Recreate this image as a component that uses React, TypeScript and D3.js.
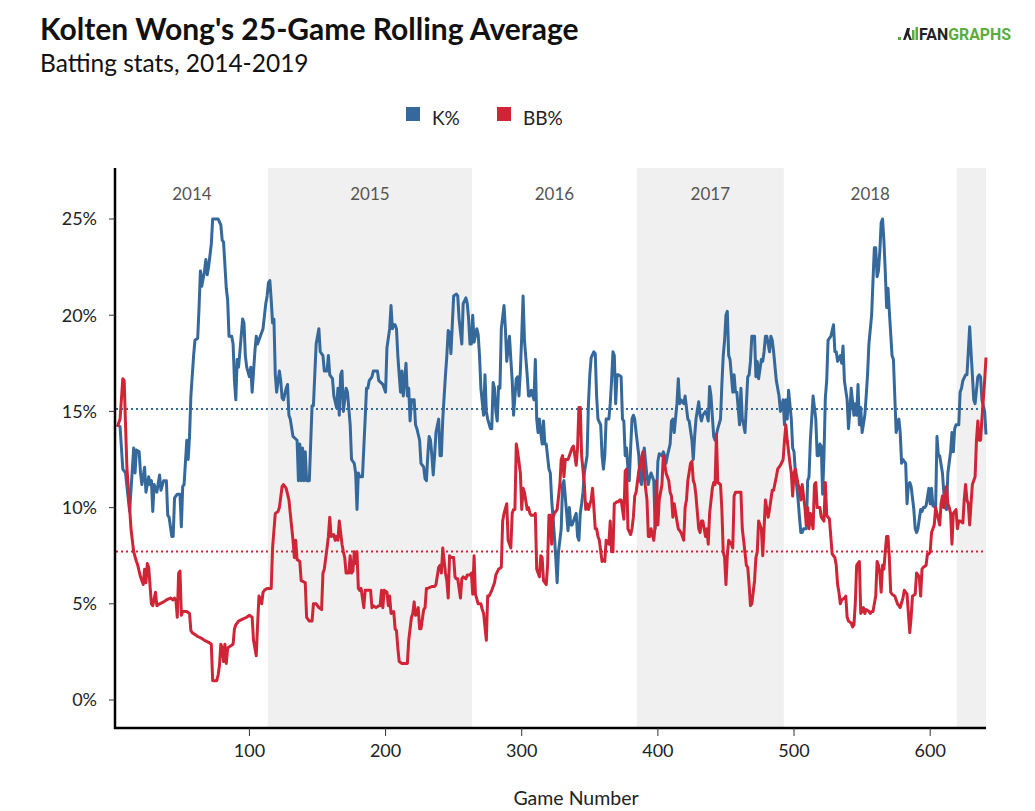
import React from 'react';
import * as d3 from 'd3';

type Pt = [number, number];

// K% 25-game rolling average, [game number, percent]
const k2014: Pt[] = [[3,14.3],[5,14.2],[7,12.0],[9,11.8],[12,9.8],[15,13.1],[16,11.8],[17,13.0],[19,12.9],[20,11.8],[21,11.2],[23,12.1],[24,10.8],[26,11.6],[27,11.2],[28,11.4],[29,9.8],[30,11.2],[32,10.8],[34,11.7],[35,10.9],[37,11.4],[39,11.4],[40,9.6],[41,9.5],[43,8.5],[44,8.5],[45,10.5],[47,10.7],[49,10.7],[50,9.0],[51,11.1],[52,11.2],[54,13.5],[55,12.5],[56,13.7],[57,15.8],[59,17.9],[60,18.7],[62,18.8],[63,20.4],[64,22.3],[65,21.5],[67,22.3],[68,22.9],[69,22.1],[70,22.5],[72,23.7],[73,25.0],[77,25.0],[79,24.7],[80,23.9],[81,23.8],[83,21.4],[84,20.8],[85,18.9],[87,18.9],[88,18.5],[89,16.6],[90,15.6],[91,17.7],[92,17.3],[93,18.1],[95,19.8],[96,19.6],[97,17.9],[98,17.3],[100,16.8],[101,17.3],[102,16.0],[104,18.1],[105,18.9],[106,18.5],[108,18.9],[109,19.1],[110,19.3],[112,20.6],[113,21.0]];
const k2015: Pt[] = [[114,21.7],[115,21.8],[116,20.8],[117,19.6],[118,19.8],[119,16.9],[120,16.0],[122,17.1],[123,16.6],[124,15.7],[125,15.6],[127,16.2],[128,16.4],[129,14.8],[130,14.6],[132,13.7],[135,13.5],[136,11.4],[137,13.3],[138,11.4],[139,13.1],[140,11.4],[141,12.9],[142,11.4],[144,11.4],[146,15.3],[147,15.3],[148,16.9],[149,18.5],[151,19.3],[152,18.1],[153,18.0],[154,17.9],[155,17.1],[157,17.1],[158,17.9],[159,16.9],[161,16.7],[162,15.8],[164,15.2],[165,16.2],[166,14.8],[167,16.9],[168,17.1],[169,15.0],[171,16.2],[172,16.0],[174,14.3],[175,12.5],[177,12.3],[178,11.8],[179,9.9],[180,11.8],[181,11.6],[183,11.6],[184,13.1],[185,14.6],[186,16.2],[187,16.2],[188,16.6],[190,16.8],[191,17.1],[194,17.1],[195,16.6],[198,16.4],[200,16.0],[201,18.3],[203,19.3],[204,20.5],[205,19.3],[206,19.5],[207,19.5],[208,19.3],[209,17.9],[210,16.9],[211,16.0],[212,17.1],[213,15.8],[215,17.5],[216,15.8],[217,16.2],[218,14.5],[219,15.6],[221,15.6],[222,14.3],[223,14.1],[225,13.5],[226,12.3],[228,12.1],[229,11.5],[230,11.4],[231,12.7],[232,13.7],[233,13.5],[234,12.7],[235,11.7],[236,12.7],[237,13.9],[239,14.6],[240,12.7],[241,12.7],[242,14.6],[244,16.9],[245,17.9],[246,19.2],[247,19.1],[248,18.0],[249,19.5],[250,21.0],[252,21.1],[253,21.0],[254,19.8],[256,18.5],[257,20.6],[259,20.9],[260,20.6],[261,19.8],[262,18.5],[263,18.5]];
const k2016: Pt[] = [[264,20.0],[265,18.6],[267,19.3],[268,19.0],[269,17.9],[270,16.2],[272,14.8],[273,16.9],[274,15.0],[275,14.6],[277,14.1],[278,14.1],[279,16.5],[280,16.2],[281,15.0],[282,14.5],[283,16.3],[284,16.2],[285,19.3],[287,20.5],[288,19.3],[289,17.6],[291,18.9],[292,17.7],[293,16.6],[294,14.8],[296,16.7],[297,16.8],[298,15.8],[299,17.1],[300,18.9],[301,21.0],[302,18.7],[304,16.9],[305,15.8],[306,15.8],[307,16.1],[309,15.6],[310,17.7],[311,14.6],[312,13.9],[313,14.6],[314,13.9],[315,13.3],[316,14.5],[317,13.3],[318,13.3],[320,12.0],[321,11.8],[322,10.4],[324,8.5],[325,7.4],[326,6.1],[327,7.7],[329,8.9],[330,11.2],[331,11.4],[333,9.7],[334,8.8],[335,10.0],[336,9.1],[337,9.1],[338,9.3],[340,9.7],[341,8.5],[342,8.3],[343,9.7],[344,10.2],[345,10.8],[346,11.8],[348,12.7],[349,15.4],[350,16.9],[351,17.8],[353,18.1],[354,18.0],[355,15.8],[356,14.6],[358,14.3],[359,12.7],[360,12.0],[361,12.7],[362,14.6],[364,14.6],[365,15.4],[366,16.6],[367,18.1],[368,17.9],[369,15.4],[370,16.9],[371,16.9],[373,16.8],[374,14.6],[375,14.5],[376,12.7],[377,13.1],[378,12.0],[379,11.4],[380,13.1],[381,14.6],[382,14.8],[383,14.6],[384,13.9]];
const k2017: Pt[] = [[386,12.7],[387,11.4],[388,11.2],[389,12.5],[390,13.1],[392,11.6],[393,11.2],[394,11.6],[395,11.8],[397,11.4],[398,8.9],[399,10.5],[400,12.4],[401,12.8],[403,12.7],[404,12.9],[405,12.7],[406,12.3],[407,12.7],[409,13.3],[410,14.5],[411,14.6],[412,13.9],[414,15.4],[415,16.7],[416,15.4],[417,15.6],[419,15.4],[420,15.8],[421,15.2],[422,14.6],[423,14.5],[425,13.5],[426,12.5],[427,13.7],[428,14.6],[430,15.5],[431,14.8],[432,14.5],[433,14.8],[435,15.0],[436,14.8],[437,14.5],[438,16.3],[439,15.8],[441,13.7],[442,13.5],[443,13.8],[444,14.1],[446,14.6],[447,16.4],[448,17.9],[449,18.7],[450,20.0],[451,20.2],[452,17.9],[453,17.7],[455,16.0],[456,16.9],[457,16.0],[458,16.0],[460,14.3],[461,16.2],[462,14.6],[463,14.3],[464,13.9],[466,16.8],[467,16.9],[468,17.6],[469,18.9],[471,18.9],[472,16.8],[473,17.6],[474,16.7],[476,17.7],[477,17.6],[478,18.1],[479,18.9],[480,18.9],[482,18.1],[483,18.9],[484,18.7],[485,18.1],[487,16.6],[488,16.2],[489,15.8],[490,15.0],[492,15.6],[493,14.3]];
const k2018: Pt[] = [[494,15.6],[495,14.6],[496,16.1],[498,14.6],[499,13.1],[500,12.9],[501,11.8],[503,10.4],[504,9.5],[505,8.7],[506,8.7],[507,8.9],[509,8.9],[510,11.4],[511,11.6],[512,13.5],[514,15.8],[516,14.6],[517,12.7],[518,12.7],[519,13.3],[520,13.2],[521,10.7],[522,12.7],[523,15.7],[524,16.6],[525,18.7],[527,18.9],[529,19.5],[530,18.1],[531,18.1],[532,17.6],[534,17.9],[535,17.5],[536,18.4],[537,16.6],[539,15.6],[540,14.1],[541,15.0],[542,16.2],[544,14.8],[545,15.4],[546,14.8],[547,16.4],[548,14.3],[549,15.2],[550,13.9],[552,14.8],[553,15.8],[554,16.9],[555,18.5],[557,20.0],[558,21.8],[559,23.5],[560,23.5],[561,22.0],[562,22.3],[563,23.3],[564,24.8],[565,25.0],[566,23.9],[567,22.3],[568,20.4],[569,21.4],[570,20.2],[572,17.9],[573,17.7],[574,15.8],[575,13.9],[577,14.6],[578,13.9],[579,12.3],[580,12.5],[582,12.3],[583,10.2],[584,11.2],[585,11.3],[586,11.1],[588,9.9],[589,8.9],[590,8.7],[591,8.9],[593,9.9],[594,9.8],[595,10.0],[596,10.0],[597,10.1],[599,11.0],[600,10.2],[601,11.0],[602,10.1],[604,10.0],[605,13.7],[606,12.7],[607,12.7],[609,11.8],[610,10.8],[611,10.0],[612,9.9],[613,11.8],[615,12.9],[616,13.9],[617,12.9],[618,14.1],[619,14.3]];
const k2019: Pt[] = [[621,14.3],[622,16.0],[623,16.2],[624,16.6],[626,16.9],[627,16.9],[628,18.1],[629,19.4],[630,18.1],[631,16.9],[632,15.6],[633,15.4],[635,16.8],[636,16.9],[637,16.8],[638,15.6],[640,15.0],[641,13.8]];

// BB% 25-game rolling average, [game number, percent]
const bb2014: Pt[] = [[3,14.2],[5,14.6],[7,16.7],[8,16.6],[9,14.3],[10,12.1],[12,10.0],[13,8.9],[15,7.7],[17,7.2],[18,7.0],[20,6.4],[22,6.0],[23,6.8],[24,6.1],[25,7.1],[26,6.9],[28,5.0],[29,4.9],[31,5.6],[32,4.9],[34,5.0],[37,5.1],[39,5.2],[42,5.3],[44,5.2],[45,5.3],[46,5.2],[47,4.3],[48,6.6],[49,6.7],[50,4.4],[51,4.6],[54,4.6],[56,4.5],[57,3.6],[58,3.5],[60,3.4],[62,3.3],[65,3.2],[67,3.1],[70,3.0],[72,2.9],[73,1.0],[76,1.0],[77,1.3],[78,1.8],[79,2.9],[80,2.7],[81,2.0],[82,2.9],[83,1.9],[84,2.7],[86,2.8],[88,2.9],[89,3.7],[90,3.9],[92,4.1],[95,4.2],[98,4.3],[100,4.4],[102,4.3],[103,3.1],[105,2.3],[106,3.9],[107,5.4],[109,5.0],[110,5.6],[111,5.7],[113,5.8]];
const bb2015: Pt[] = [[116,5.8],[117,7.9],[119,9.7],[121,9.8],[122,10.0],[124,11.1],[125,11.2],[127,11.0],[129,10.4],[130,9.7],[132,8.3],[133,7.4],[134,8.3],[135,7.3],[137,7.2],[138,6.2],[141,6.1],[142,4.3],[144,4.1],[146,4.1],[147,5.0],[149,5.0],[151,4.8],[153,4.7],[154,6.6],[155,6.8],[157,7.9],[158,8.5],[159,9.5],[160,8.5],[162,8.6],[163,8.3],[164,8.5],[165,8.3],[166,9.3],[168,8.1],[169,7.7],[170,7.4],[171,6.6],[173,6.6],[174,7.5],[175,6.6],[176,6.7],[177,7.7],[178,7.1],[179,7.7],[180,5.8],[181,5.7],[182,5.8],[184,4.8],[185,5.7],[189,5.7],[190,4.8],[191,4.9],[193,4.8],[195,4.9],[196,4.9],[197,5.7],[198,4.8],[199,5.7],[201,5.6],[202,4.9],[203,5.4],[204,4.5],[206,4.6],[207,3.7],[208,3.6],[209,2.7],[210,2.0],[212,1.9],[216,1.9],[217,3.1],[219,4.3],[220,4.5],[221,5.1],[222,4.4],[223,4.5],[224,4.8],[225,3.7],[226,3.7],[228,4.7],[229,4.8],[230,5.8],[231,5.8],[234,5.9],[236,5.9],[237,6.0],[239,6.9],[240,7.0],[241,6.6],[242,7.9],[244,6.6],[245,6.2],[246,5.3],[247,7.5],[248,7.4],[250,7.4],[251,6.4],[252,6.3],[253,6.3],[255,5.3],[256,6.3],[257,6.4],[259,6.3],[260,6.5],[262,6.5],[263,6.6]];
const bb2016: Pt[] = [[264,5.5],[265,7.5],[266,5.5],[268,5.0],[270,5.0],[271,4.7],[272,4.5],[274,3.1],[275,5.4],[276,5.4],[278,5.7],[280,6.1],[281,6.5],[283,6.8],[285,6.9],[286,9.3],[287,9.7],[289,10.2],[290,8.3],[292,7.9],[293,9.7],[294,9.9],[295,9.9],[296,13.3],[297,12.9],[299,11.8],[300,9.9],[301,11.0],[302,10.8],[304,9.9],[305,10.0],[306,9.7],[307,9.6],[309,9.6],[310,9.7],[311,6.8],[313,6.4],[314,7.5],[315,7.4],[316,6.2],[318,6.0],[319,7.0],[320,9.6],[321,9.6],[322,8.1],[323,9.5],[324,9.7],[325,9.8],[326,9.9],[328,11.2],[329,12.5],[330,12.7],[331,11.6],[332,12.5],[334,12.5],[335,12.7],[337,13.1],[338,13.2],[340,12.2],[341,13.1],[342,15.2],[343,15.2],[344,12.7],[346,11.2],[347,9.9],[348,10.2],[349,9.9],[351,10.4],[352,11.0],[353,10.0],[354,8.9],[355,8.9],[356,8.5],[357,8.3],[359,7.2],[360,7.3],[361,7.2],[362,8.3],[364,8.1],[365,9.3],[366,7.7],[367,7.7],[368,10.2],[370,10.3],[371,10.3],[372,10.4],[373,10.4],[375,9.4],[376,11.9],[377,12.0],[378,8.9],[380,8.6],[381,8.9],[382,9.5],[383,10.6],[384,10.8]];
const bb2017: Pt[] = [[386,11.9],[388,12.6],[389,12.9],[390,11.6],[392,10.4],[393,8.5],[394,8.5],[395,8.9],[397,8.3],[398,9.1],[399,11.4],[400,9.1],[401,10.4],[403,11.2],[404,12.7],[405,12.3],[406,11.8],[408,11.4],[409,10.8],[410,10.6],[411,9.5],[412,10.2],[414,9.3],[415,8.9],[416,8.8],[417,8.7],[419,8.3],[420,10.0],[421,10.4],[422,11.4],[424,12.3],[425,12.4],[426,11.4],[427,11.2],[428,10.6],[430,8.9],[431,8.7],[432,9.3],[433,9.3],[435,8.5],[436,8.9],[437,8.1],[438,9.7],[440,11.0],[441,11.3],[442,11.2],[443,13.8],[444,11.3],[446,11.2],[447,9.9],[448,7.7],[449,7.4],[450,6.0],[451,7.5],[452,8.3],[454,8.1],[455,7.9],[456,10.6],[457,10.8],[459,10.8],[461,10.8],[462,8.9],[463,8.3],[465,7.0],[466,6.9],[467,6.0],[468,4.9],[469,5.0],[471,6.2],[472,7.4],[473,7.7],[474,9.3],[476,8.9],[477,7.5],[478,8.9],[479,10.4],[481,9.5],[482,9.9],[483,10.4],[484,10.9],[485,10.9],[487,11.6],[488,12.0],[489,12.1],[490,12.2],[492,12.5],[493,13.5]];
const bb2018: Pt[] = [[494,14.3],[495,13.5],[497,12.3],[498,11.8],[499,10.6],[500,11.8],[501,12.0],[503,11.2],[504,11.0],[505,10.4],[506,11.2],[508,10.0],[509,9.1],[510,10.0],[511,8.9],[512,9.7],[514,8.9],[515,11.2],[516,11.3],[517,10.0],[519,10.0],[520,9.5],[521,9.4],[522,9.3],[523,11.3],[524,9.6],[526,9.4],[527,8.5],[528,7.6],[530,7.4],[531,7.0],[532,6.0],[533,5.6],[534,5.0],[535,5.2],[537,5.3],[538,5.4],[539,4.3],[540,4.1],[542,4.0],[543,3.8],[544,3.9],[545,5.0],[546,7.0],[548,7.2],[549,4.5],[550,4.6],[551,4.8],[552,4.5],[553,4.7],[555,4.6],[556,4.5],[557,4.6],[558,4.6],[560,5.4],[561,7.2],[562,7.0],[563,6.6],[564,5.6],[565,7.0],[566,6.8],[567,7.7],[568,8.5],[569,8.5],[570,7.4],[571,5.6],[572,5.5],[574,5.4],[575,5.2],[576,5.0],[577,4.9],[578,4.8],[580,5.3],[581,5.7],[582,5.6],[583,5.5],[584,4.5],[585,3.5],[586,4.3],[587,5.4],[589,5.5],[590,6.6],[591,6.5],[592,6.4],[593,5.4],[594,6.8],[595,6.9],[597,7.0],[598,7.6],[599,7.6],[600,7.7],[601,8.7],[603,9.1],[604,10.0],[605,9.7],[607,9.1],[608,10.2],[609,10.6],[610,10.0],[612,11.1],[613,10.2],[614,10.0],[615,9.7],[616,8.1],[617,9.7],[619,9.9]];
const bb2019: Pt[] = [[620,8.9],[621,9.3],[622,9.3],[624,9.2],[625,10.4],[626,11.2],[627,10.4],[628,10.2],[629,9.1],[630,10.2],[631,11.2],[633,11.6],[634,13.5],[635,14.5],[636,13.5],[637,13.5],[638,14.6],[639,15.6],[640,16.6],[641,17.8]];

// Season boundaries (game numbers) and labels
const seasonLabels = ['2014', '2015', '2016', '2017', '2018', '2019'];
const seasonBounds = [2, 113.5, 263.5, 384.5, 492.5, 619.5, 641];
const xTicks = [100, 200, 300, 400, 500, 600];
const yTicks = [0, 5, 10, 15, 20, 25];
const kCareer = 15.13;
const bbCareer = 7.72;

const BLUE = '#35699c';
const RED = '#d02536';
const FONT = 'Lato, "Noto Sans", sans-serif';

export default function App() {
  const W = 1035, H = 811;
  const left = 116, right = 986, top = 168, bottom = 728;
  const x = d3.scaleLinear().domain([seasonBounds[0], seasonBounds[seasonBounds.length - 1]]).range([left, right]);
  const y = d3.scaleLinear().domain([0, 25]).range([700, 219]);
  const kData = [...k2014, ...k2015, ...k2016, ...k2017, ...k2018, ...k2019];
  const bbData = [...bb2014, ...bb2015, ...bb2016, ...bb2017, ...bb2018, ...bb2019];
  const line = d3.line<Pt>().x(d => x(d[0])).y(d => y(d[1]));

  return (
    <div style={{ position: 'absolute', left: 0, top: 0, width: W, height: H, background: '#fff' }}>
      <svg width={W} height={H} style={{ display: 'block', fontFamily: FONT }}>
        {/* season bands */}
        {seasonLabels.map((lab, i) => {
          const x0 = x(seasonBounds[i]);
          const x1 = x(seasonBounds[i + 1]);
          return (
            <g key={lab}>
              {i % 2 === 1 && <rect x={x0} y={top} width={x1 - x0} height={bottom - top} fill="#f0f0f0" />}
              {x1 - x0 > 60 && (
                <text x={(x0 + x1) / 2} y={200} textAnchor="middle" fontSize={17} fill="#555">{lab}</text>
              )}
            </g>
          );
        })}

        {/* career average lines */}
        <line x1={left} x2={right} y1={y(kCareer)} y2={y(kCareer)} stroke={BLUE} strokeWidth={2} strokeDasharray="2,3" />
        <line x1={left} x2={right} y1={y(bbCareer)} y2={y(bbCareer)} stroke={RED} strokeWidth={2} strokeDasharray="2,3" />

        {/* series */}
        <path d={line(kData) || ''} fill="none" stroke={BLUE} strokeWidth={3} strokeLinejoin="round" />
        <path d={line(bbData) || ''} fill="none" stroke={RED} strokeWidth={3} strokeLinejoin="round" />

        {/* y axis */}
        <line x1={left - 1} x2={left - 1} y1={top} y2={bottom + 1} stroke="#000" strokeWidth={2.5} />
        {yTicks.map(t => (
          <g key={t}>
            <line x1={left - 7} x2={left - 1} y1={y(t)} y2={y(t)} stroke="#333" strokeWidth={1} />
            <text x={97} y={y(t)} dy="0.35em" textAnchor="end" fontSize={18} fill="#222">{`${t}%`}</text>
          </g>
        ))}

        {/* x axis */}
        <line x1={left - 2} x2={right} y1={bottom} y2={bottom} stroke="#000" strokeWidth={2.5} />
        {xTicks.map(t => (
          <g key={t}>
            <line x1={x(t)} x2={x(t)} y1={bottom} y2={bottom + 8} stroke="#333" strokeWidth={1} />
            <text x={x(t)} y={757} textAnchor="middle" fontSize={18} fill="#222">{t}</text>
          </g>
        ))}
        <text x={576} y={805} textAnchor="middle" fontSize={19.5} fill="#222">Game Number</text>

        {/* title */}
        <text x={40} y={40} fontSize={30} fontWeight={700} fill="#111">Kolten Wong's 25-Game Rolling Average</text>
        <text x={40} y={72} fontSize={24.5} fill="#111">Batting stats, 2014-2019</text>

        {/* legend */}
        <rect x={406} y={107} width={14} height={14} fill={BLUE} />
        <text x={432} y={125} fontSize={19} fill="#222">K%</text>
        <rect x={497} y={107} width={14} height={14} fill={RED} />
        <text x={523} y={125} fontSize={19} fill="#222">BB%</text>

        {/* logo */}
        <g>
          <rect x={898} y={37} width={3} height={3} fill="#5aad3c" />
          <path d="M903,40 L907,28 L910,28 L909,33 L912,40 L909.5,40 L907.5,35 L905.5,40 Z" fill="#222" />
          <rect x={912} y={30} width={2.5} height={10} fill="#5aad3c" />
          <rect x={915.5} y={27} width={2.5} height={13} fill="#5aad3c" />
          <text x={919} y={40} fontSize={17} fontWeight={700} fontFamily="Roboto, sans-serif" textLength={92} lengthAdjust="spacingAndGlyphs">
            <tspan fill="#222">FAN</tspan>
            <tspan fill="#5aad3c">GRAPHS</tspan>
          </text>
        </g>
      </svg>
    </div>
  );
}
